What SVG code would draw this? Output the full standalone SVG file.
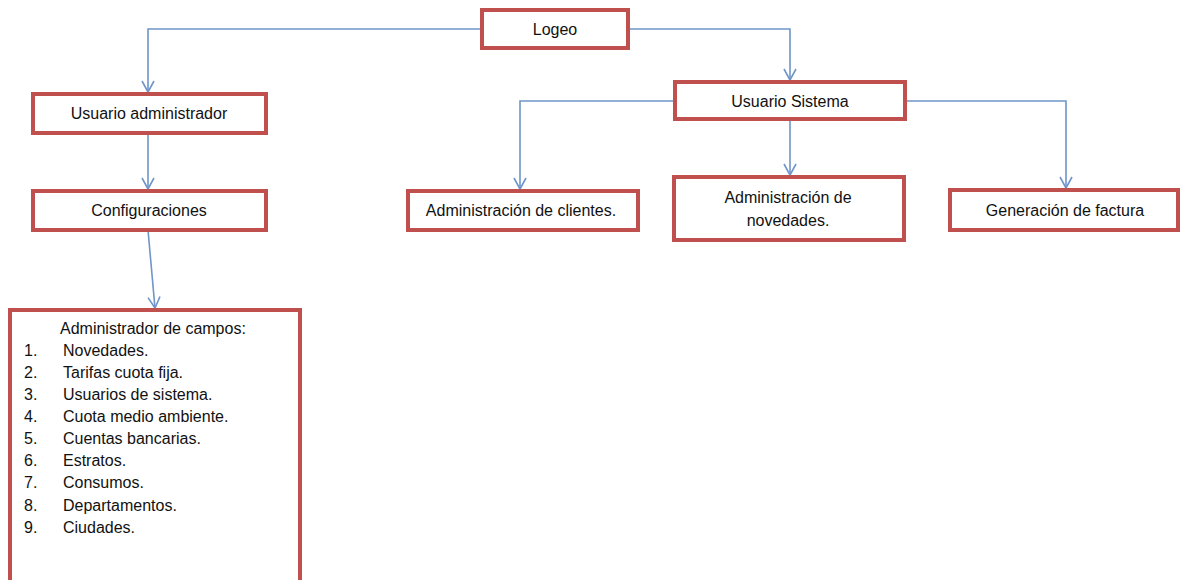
<svg xmlns="http://www.w3.org/2000/svg" width="1181" height="580" viewBox="0 0 1181 580">
<style>
.box{fill:#fff;stroke:#c0504d;stroke-width:4}
.t{font-family:"Liberation Sans",Arial,sans-serif;font-size:16px;fill:#111;text-anchor:middle}
.l{font-family:"Liberation Sans",Arial,sans-serif;font-size:16px;fill:#111}
.c{fill:none;stroke:#6f95c9;stroke-width:1.6}
</style>
<defs>
<marker id="ah" markerWidth="14" markerHeight="14" refX="12" refY="7" orient="auto" markerUnits="userSpaceOnUse">
<path d="M1,1 L12,7 L1,13" fill="none" stroke="#6f95c9" stroke-width="1.6"/>
</marker>
</defs>
<rect width="1181" height="580" fill="#fff"/>
<g id="connectors">
<path class="c" d="M482,29 H148 V92" marker-end="url(#ah)"/>
<path class="c" d="M628,29 H790 V80" marker-end="url(#ah)"/>
<path class="c" d="M148,133 V189" marker-end="url(#ah)"/>
<path class="c" d="M148,230 L155,308" marker-end="url(#ah)"/>
<path class="c" d="M675,101 H520 V189" marker-end="url(#ah)"/>
<path class="c" d="M790,119 V175" marker-end="url(#ah)"/>
<path class="c" d="M905,101 H1066 V188" marker-end="url(#ah)"/>
</g>
<g id="logeo"><rect class="box" x="482" y="10" width="146" height="38"/><text class="t" x="555" y="35">Logeo</text></g>
<g id="usuario-admin"><rect class="box" x="33" y="94" width="233" height="39"/><text class="t" x="149" y="119">Usuario administrador</text></g>
<g id="configuraciones"><rect class="box" x="33" y="191" width="233" height="39"/><text class="t" x="149" y="216">Configuraciones</text></g>
<g id="usuario-sistema"><rect class="box" x="675" y="82" width="230" height="37"/><text class="t" x="790" y="107">Usuario Sistema</text></g>
<g id="admin-clientes"><rect class="box" x="408" y="191" width="230" height="39"/><text class="t" x="521" y="216">Administración de clientes.</text></g>
<g id="admin-novedades"><rect class="box" x="674" y="177" width="230" height="63"/><text class="t" x="788" y="203">Administración de</text><text class="t" x="788" y="226">novedades.</text></g>
<g id="generacion-factura"><rect class="box" x="950" y="190" width="228" height="40"/><text class="t" x="1065" y="216">Generación de factura</text></g>
<g id="admin-campos"><rect class="box" x="10" y="310" width="290" height="275"/>
<text class="l" x="60" y="334">Administrador de campos:</text>
<text class="l" x="24" y="356">1.</text><text class="l" x="63" y="356">Novedades.</text>
<text class="l" x="24" y="378">2.</text><text class="l" x="63" y="378">Tarifas cuota fija.</text>
<text class="l" x="24" y="400">3.</text><text class="l" x="63" y="400">Usuarios de sistema.</text>
<text class="l" x="24" y="422">4.</text><text class="l" x="63" y="422">Cuota medio ambiente.</text>
<text class="l" x="24" y="444">5.</text><text class="l" x="63" y="444">Cuentas bancarias.</text>
<text class="l" x="24" y="466">6.</text><text class="l" x="63" y="466">Estratos.</text>
<text class="l" x="24" y="488">7.</text><text class="l" x="63" y="488">Consumos.</text>
<text class="l" x="24" y="511">8.</text><text class="l" x="63" y="511">Departamentos.</text>
<text class="l" x="24" y="533">9.</text><text class="l" x="63" y="533">Ciudades.</text>
</g>
</svg>
